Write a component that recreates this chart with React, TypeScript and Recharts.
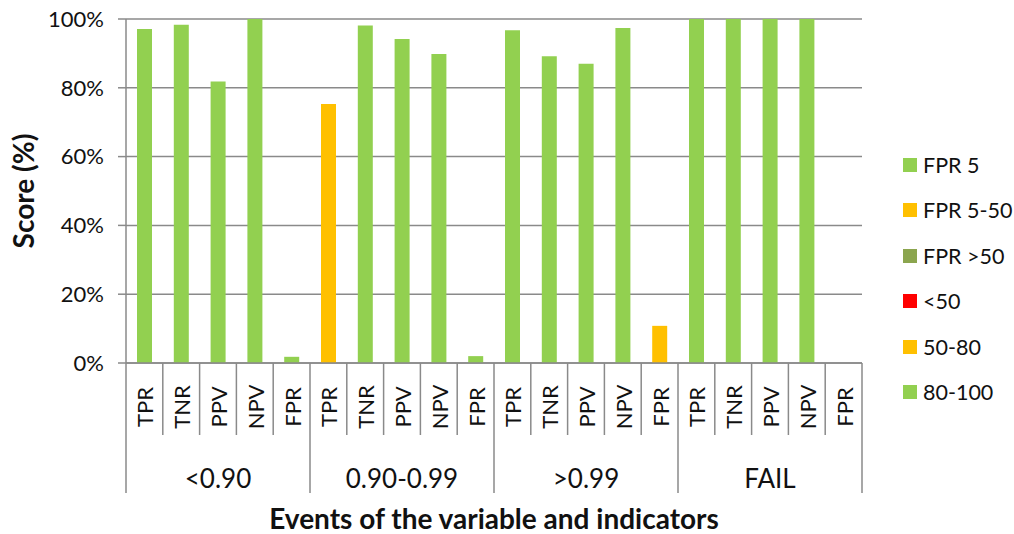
import { BarChart, Bar, XAxis, YAxis, CartesianGrid, Legend } from 'recharts';

const groups = ['<0.90', '0.90-0.99', '>0.99', 'FAIL'];
const indicators = ['TPR', 'TNR', 'PPV', 'NPV', 'FPR'];
const scoresLow = [97.1, 98.3, 81.8, 100, 1.8];
const scoresMid = [75.3, 98.1, 94.2, 89.8, 2.0];
const scoresHigh = [96.7, 89.2, 87.0, 97.4, 10.8];
const scoresFail = [100, 100, 100, 100, 0];
const groupScores = [scoresLow, scoresMid, scoresHigh, scoresFail];

const seriesNames = ['FPR 5', 'FPR 5-50', 'FPR >50', '<50', '50-80', '80-100'];
const seriesColors = ['#92D050', '#FFC000', '#8BA54E', '#FF0000', '#FFC000', '#92D050'];
const yTicks = [0, 20, 40, 60, 80, 100];

const FONT = 'Lato, "Open Sans", sans-serif';
const GRID = '#8a8a8a';

const W = 1014;
const H = 534;
const MARGIN = { top: 19, right: 152, left: 16, bottom: 41 };
const Y_AXIS_W = 110;
const PLOT_W = W - MARGIN.left - MARGIN.right - Y_AXIS_W;

// FPR is graded low-is-good, the other indicators high-is-good
function bandFor(ind: string, v: number) {
    if (ind === 'FPR') {
        if (v <= 5) return 'FPR 5';
        if (v <= 50) return 'FPR 5-50';
        return 'FPR >50';
    }
    if (v < 50) return '<50';
    if (v < 80) return '50-80';
    return '80-100';
}

const data = groups.flatMap((g, gi) =>
    indicators.map((ind, ii) => {
        const v = groupScores[gi][ii];
        return { key: `${g}|${ind}`, group: g, ind, [bandFor(ind, v)]: v };
    })
);

const BAND = PLOT_W / data.length;

function IndicatorTick(props: any) {
    const { x, y, index } = props;
    const row = data[index];
    if (!row) return null;
    const left = x - BAND / 2;
    const n = indicators.length;
    const groupStart = index % n === 0;
    const last = index === data.length - 1;
    return (
        <g>
            <line x1={left} y1={y} x2={left} y2={y + (groupStart ? 130 : 72)} stroke={GRID} strokeWidth={1.5} />
            {last && <line x1={x + BAND / 2} y1={y} x2={x + BAND / 2} y2={y + 130} stroke={GRID} strokeWidth={1.5} />}
            <text
                transform={`translate(${x + 0.5},${y + 44}) rotate(-90)`}
                textAnchor="middle"
                dominantBaseline="central"
                fontFamily={FONT}
                fontSize={22}
                fill="#111"
            >
                {row.ind}
            </text>
            {index % n === 2 && (
                <text x={x} y={y + 115} textAnchor="middle" dominantBaseline="central" fontFamily={FONT} fontSize={26} fill="#111">
                    {row.group}
                </text>
            )}
        </g>
    );
}

const renderLegend = () => (
    <div style={{ fontFamily: FONT, fontSize: 21.5, color: '#111' }}>
        {seriesNames.map((name, i) => (
            <div key={name} style={{ display: 'flex', alignItems: 'center', height: 45.5 }}>
                <span style={{ width: 14, height: 14, background: seriesColors[i], marginRight: 6, display: 'inline-block' }} />
                <span>{name}</span>
            </div>
        ))}
    </div>
);

export default function App() {
    return (
        <div style={{ position: 'absolute', left: 0, top: 0, background: '#fff' }}>
            <BarChart width={W} height={H} data={data} margin={MARGIN} barSize={15}>
                <CartesianGrid vertical={false} stroke={GRID} strokeWidth={1.5} />
                <XAxis
                    dataKey="key"
                    interval={0}
                    height={130}
                    tickLine={false}
                    tickSize={0}
                    tickMargin={0}
                    axisLine={{ stroke: GRID, strokeWidth: 1.5 }}
                    tick={<IndicatorTick />}
                    label={{
                        content: ({ viewBox }: any) => (
                            <text
                                x={viewBox.x + viewBox.width / 2}
                                y={518}
                                textAnchor="middle"
                                dominantBaseline="central"
                                fontFamily={FONT}
                                fontSize={28}
                                fontWeight="bold"
                                fill="#111"
                            >
                                Events of the variable and indicators
                            </text>
                        ),
                    }}
                />
                <YAxis
                    width={Y_AXIS_W}
                    domain={[0, 100]}
                    ticks={yTicks}
                    tickFormatter={(v) => `${v}%`}
                    tickSize={8}
                    tickMargin={14}
                    tickLine={{ stroke: GRID, strokeWidth: 1.5 }}
                    axisLine={{ stroke: GRID, strokeWidth: 1.5 }}
                    tick={{ fontFamily: FONT, fontSize: 22, fill: '#111' }}
                    label={{
                        content: () => (
                            <text
                                transform="translate(23,191) rotate(-90)"
                                textAnchor="middle"
                                dominantBaseline="central"
                                fontFamily={FONT}
                                fontSize={28}
                                fontWeight="bold"
                                fill="#111"
                            >
                                Score (%)
                            </text>
                        ),
                    }}
                />
                <Legend
                    layout="vertical"
                    align="center"
                    verticalAlign="middle"
                    content={renderLegend}
                    wrapperStyle={{ left: 903, top: 142, width: 111 }}
                />
                {seriesNames.map((name, i) => (
                    <Bar key={name} dataKey={name} stackId="a" fill={seriesColors[i]} isAnimationActive={false} />
                ))}
            </BarChart>
        </div>
    );
}
